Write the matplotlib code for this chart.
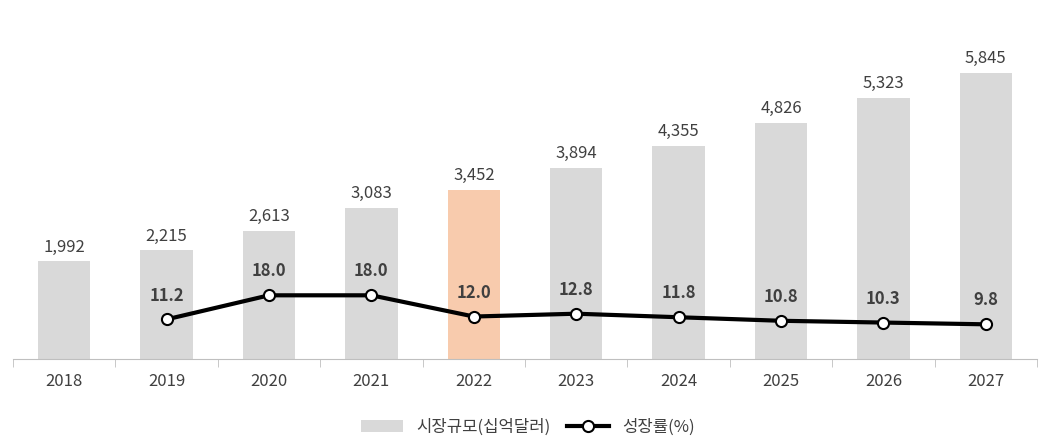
import matplotlib.pyplot as plt
import numpy as np

plt.rcParams['font.family'] = ['Noto Sans CJK KR']

years = ['2018', '2019', '2020', '2021', '2022', '2023', '2024', '2025', '2026', '2027']
market = [1992, 2215, 2613, 3083, 3452, 3894, 4355, 4826, 5323, 5845]
growth_years = years[1:]
growth = [11.2, 18.0, 18.0, 12.0, 12.8, 11.8, 10.8, 10.3, 9.8]

txt = '#404040'
x = np.arange(len(years))
colors = ['#d9d9d9'] * len(years)
colors[4] = '#f8cbad'

fig = plt.figure(figsize=(10.56, 4.48), dpi=100)
ax = fig.add_axes([13/1056, 1-359/448, 1024/1056, 339/448])
bars = ax.bar(x, market, width=0.51, color=colors, label='시장규모(십억달러)')
ax.set_xlim(-0.5, len(years) - 0.5)
ax.set_ylim(0, 6920)
for xi, v in zip(x, market):
    ax.text(xi, v + 120, f'{v:,}', ha='center', va='bottom', fontsize=12, color=txt)
ax.set_yticks([])
ax.set_xticks(x)
ax.set_xticklabels(years, fontsize=12, color=txt)
ax.set_xticks(np.arange(-0.5, len(years)), minor=True)
ax.tick_params(axis='x', which='major', length=0, pad=10)
ax.tick_params(axis='x', which='minor', length=6, color='#bfbfbf')
for s in ['top', 'left', 'right']:
    ax.spines[s].set_visible(False)
ax.spines['bottom'].set_color('#bfbfbf')

ax2 = ax.twinx()
gx = x[1:]
line, = ax2.plot(gx, growth, color='black', lw=3, marker='o', ms=8,
                 mfc='white', mec='black', mew=1.5, label='성장률(%)')
ax2.set_ylim(0, 95.8)
ax2.set_yticks([])
for s in ['top', 'left', 'right', 'bottom']:
    ax2.spines[s].set_visible(False)
for xi, v in zip(gx, growth):
    ax2.text(xi, v + 4.2, f'{v:.1f}', ha='center', va='bottom', fontsize=12,
             fontweight='bold', color=txt)

fig.legend([bars, line], ['시장규모(십억달러)', '성장률(%)'], loc='center',
           bbox_to_anchor=(0.5, 1-427/448), ncol=2, frameon=False,
           fontsize=12, labelcolor=txt, handlelength=2.5, columnspacing=1.0)

fig.savefig('out.png', dpi=100)
